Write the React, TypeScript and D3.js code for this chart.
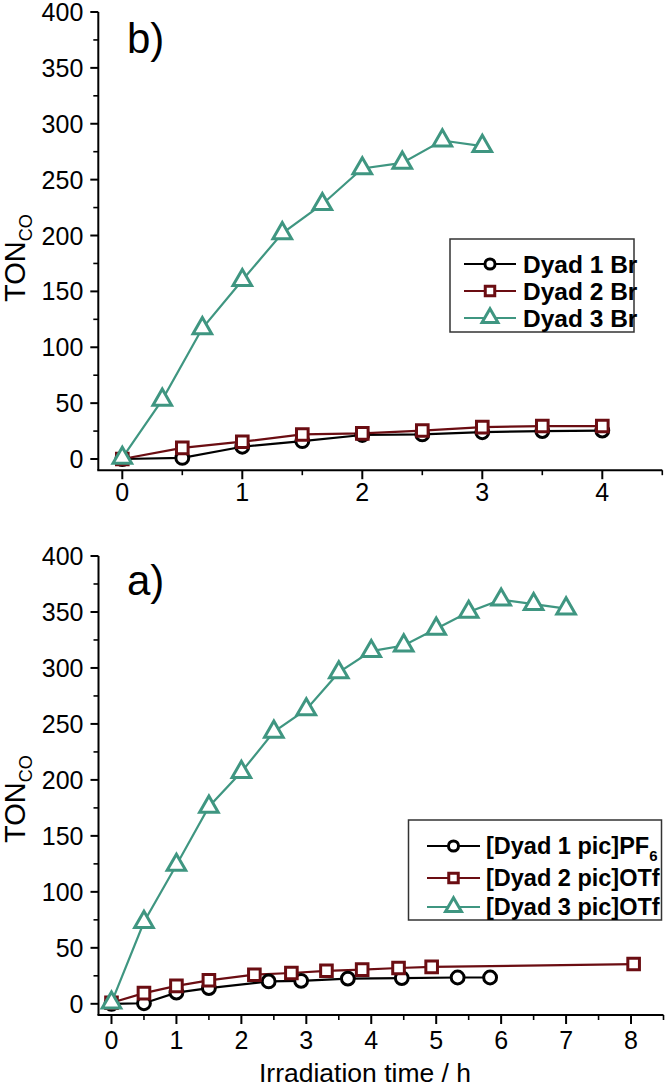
import React from "react";
import * as d3 from "d3";

// ---- data (panel b: Br salts) ----
const bTime1 = [0, 0.5, 1, 1.5, 2, 2.5, 3, 3.5, 4];
const bTon1 = [0, 1, 11, 16, 21.5, 22, 24, 25, 25.5];
const bTime2 = [0, 0.5, 1, 1.5, 2, 2.5, 3, 3.5, 4];
const bTon2 = [0, 10, 15.5, 22, 23, 25.5, 28.5, 29.5, 29.5];
const bTime3 = [0, 0.333, 0.667, 1, 1.333, 1.667, 2, 2.333, 2.667, 3];
const bTon3 = [1, 53, 117, 160, 202, 228, 260, 265, 285, 280];

// ---- data (panel a: pic salts) ----
const aTime1 = [0, 0.5, 1, 1.5, 2.42, 2.92, 3.64, 4.47, 5.33, 5.83];
const aTon1 = [0, 0.5, 10, 14, 20, 20.5, 22.5, 23, 23.5, 23.5];
const aTime2 = [0, 0.5, 1, 1.5, 2.2, 2.77, 3.31, 3.86, 4.42, 4.93, 8.04];
const aTon2 = [1, 9.5, 16, 21, 26, 27.5, 29.5, 30.5, 32, 33, 35.5];
const aTime3 = [0, 0.5, 1, 1.5, 2, 2.5, 3, 3.5, 4, 4.5, 5, 5.5, 6, 6.5, 7];
const aTon3 = [1, 73, 124, 176, 207, 243, 263, 296, 315, 320, 335, 350, 361, 357, 353];

const yTicks = [0, 50, 100, 150, 200, 250, 300, 350, 400];
const bXTicks = [0, 1, 2, 3, 4];
const aXTicks = [0, 1, 2, 3, 4, 5, 6, 7, 8];

const bLegend = ["Dyad 1 Br", "Dyad 2 Br", "Dyad 3 Br"];
const aLegend = ["[Dyad 1 pic]PF", "[Dyad 2 pic]OTf", "[Dyad 3 pic]OTf"];

const colors = ["#000000", "#6b0d12", "#3f9681"];
const shapes = [d3.symbolCircle, d3.symbolSquare, d3.symbolTriangle];
const sizes = [130, 135, 150];
const legendSizes = [80, 90, 110];

const FONT = "'Liberation Sans', Arial, Helvetica, sans-serif";

type Series = { xs: number[]; ys: number[] };

function Marker({ i, x, y, size }: { i: number; x: number; y: number; size: number }) {
  const p = d3.symbol().type(shapes[i]).size(size)() as string;
  return (
    <path
      d={p}
      transform={`translate(${x},${y})`}
      fill="#fff"
      stroke={colors[i]}
      strokeWidth={3}
    />
  );
}

function Panel({
  series,
  xDomain,
  xRange,
  yRange,
  xTicks,
  xMinorEnd,
  label,
  labelY,
  legend,
  legendBox,
  legendRows,
  legendTextX,
  legendLine,
  legendFont,
  titleY,
  tickLabelY,
}: {
  series: Series[];
  xDomain: [number, number];
  xRange: [number, number];
  yRange: [number, number];
  xTicks: number[];
  xMinorEnd: number;
  label: string;
  labelY: number;
  legend: string[];
  legendBox: [number, number, number, number];
  legendRows: number[];
  legendTextX: number;
  legendLine: [number, number];
  legendFont: number;
  titleY: number;
  tickLabelY: number;
}) {
  const x = d3.scaleLinear().domain(xDomain).range(xRange);
  const y = d3.scaleLinear().domain([-10, 400]).range(yRange);
  const axisY = yRange[0];
  const axisX = xRange[0];
  const yMinor = d3.range(25, 400, 50);
  const xMinor = d3.range(0.5, xMinorEnd + 0.01, 1);
  const line = d3
    .line<[number, number]>()
    .x((d) => x(d[0]))
    .y((d) => y(d[1]));
  return (
    <g fontFamily={FONT}>
      {series.map((s, i) => (
        <path
          key={"l" + i}
          d={line(s.xs.map((v, k) => [v, s.ys[k]] as [number, number])) as string}
          fill="none"
          stroke={colors[i]}
          strokeWidth={2.2}
        />
      ))}
      {series.map((s, i) =>
        s.xs.map((v, k) => (
          <Marker key={`m${i}-${k}`} i={i} x={x(v)} y={y(s.ys[k])} size={sizes[i]} />
        ))
      )}
      <line x1={axisX} x2={axisX} y1={y(400)} y2={axisY} stroke="#000" strokeWidth={2} />
      <line x1={axisX - 1} x2={xRange[1]} y1={axisY} y2={axisY} stroke="#000" strokeWidth={2} />
      {yTicks.map((t) => (
        <g key={"yt" + t}>
          <line x1={axisX - 8} x2={axisX} y1={y(t)} y2={y(t)} stroke="#000" strokeWidth={2} />
          <text x={axisX - 15} y={y(t)} dy="0.36em" textAnchor="end" fontSize={25} fill="#000">
            {t}
          </text>
        </g>
      ))}
      {yMinor.map((t) => (
        <line key={"ym" + t} x1={axisX - 5} x2={axisX} y1={y(t)} y2={y(t)} stroke="#000" strokeWidth={1.6} />
      ))}
      {xTicks.map((t) => (
        <g key={"xt" + t}>
          <line x1={x(t)} x2={x(t)} y1={axisY} y2={axisY + 9} stroke="#000" strokeWidth={2} />
          <text x={x(t)} y={tickLabelY} textAnchor="middle" fontSize={25} fill="#000">
            {t}
          </text>
        </g>
      ))}
      {xMinor.map((t) => (
        <line key={"xm" + t} x1={x(t)} x2={x(t)} y1={axisY} y2={axisY + 5} stroke="#000" strokeWidth={1.6} />
      ))}
      <text transform={`translate(25,${titleY}) rotate(-90)`} fontSize={29} fill="#000">
        TON
        <tspan fontSize={18} dy={7}>
          CO
        </tspan>
      </text>
      <text x={127} y={labelY} fontSize={42} fill="#000">
        {label}
      </text>
      <rect
        x={legendBox[0]}
        y={legendBox[1]}
        width={legendBox[2]}
        height={legendBox[3]}
        fill="#fff"
        stroke="#333"
        strokeWidth={1.5}
      />
      {legend.map((name, i) => (
        <g key={"lg" + i}>
          <line
            x1={legendLine[0]}
            x2={legendLine[1]}
            y1={legendRows[i]}
            y2={legendRows[i]}
            stroke={colors[i]}
            strokeWidth={2}
          />
          <Marker i={i} x={(legendLine[0] + legendLine[1]) / 2} y={legendRows[i]} size={legendSizes[i]} />
          <text
            x={legendTextX}
            y={legendRows[i]}
            dy="0.36em"
            fontSize={legendFont}
            fontWeight="bold"
            fill="#000"
          >
            {name}
            {name.endsWith("PF") ? (
              <tspan fontSize={15} dy={7}>
                6
              </tspan>
            ) : null}
          </text>
        </g>
      ))}
    </g>
  );
}

export default function App() {
  const bSeries: Series[] = [
    { xs: bTime1, ys: bTon1 },
    { xs: bTime2, ys: bTon2 },
    { xs: bTime3, ys: bTon3 },
  ];
  const aSeries: Series[] = [
    { xs: aTime1, ys: aTon1 },
    { xs: aTime2, ys: aTon2 },
    { xs: aTime3, ys: aTon3 },
  ];
  return (
    <svg
      width={665}
      height={1086}
      style={{ position: "absolute", left: 0, top: 0, display: "block", background: "#fff" }}
    >
      <rect width={665} height={1086} fill="#fff" />
      <Panel
        series={bSeries}
        xDomain={[-0.2, 4.5]}
        xRange={[98.3, 662.3]}
        yRange={[470.2, 12]}
        xTicks={bXTicks}
        xMinorEnd={4.5}
        label="b)"
        labelY={53}
        legend={bLegend}
        legendBox={[450, 239, 184, 93]}
        legendRows={[264, 291, 318]}
        legendTextX={523}
        legendLine={[464, 516]}
        legendFont={24.5}
        titleY={302}
        tickLabelY={501}
      />
      <Panel
        series={aSeries}
        xDomain={[-0.2, 8.5]}
        xRange={[98.5, 663.5]}
        yRange={[1015, 556]}
        xTicks={aXTicks}
        xMinorEnd={8.5}
        label="a)"
        labelY={595}
        legend={aLegend}
        legendBox={[408.5, 820, 253, 100]}
        legendRows={[846, 878, 907]}
        legendTextX={486}
        legendLine={[427, 480]}
        legendFont={23.5}
        titleY={843}
        tickLabelY={1049}
      />
      <text
        x={365}
        y={1082}
        textAnchor="middle"
        fontSize={26.5}
        fontFamily={FONT}
        fill="#000"
      >
        Irradiation time / h
      </text>
    </svg>
  );
}
